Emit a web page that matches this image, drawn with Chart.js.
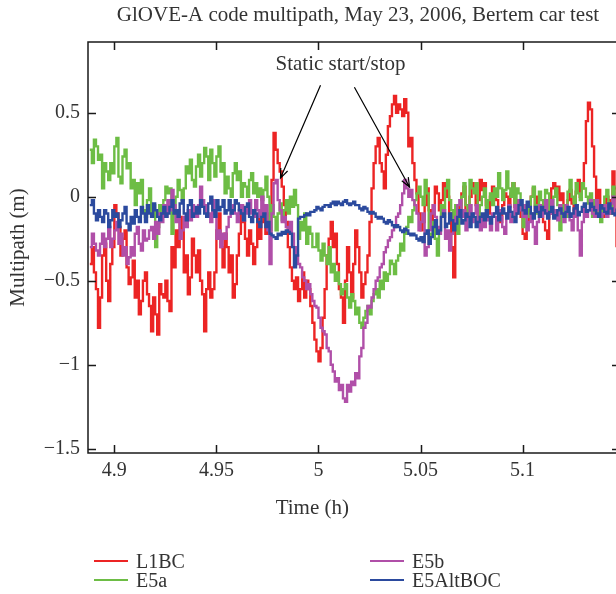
<!DOCTYPE html>
<html>
<head>
<meta charset="utf-8">
<script src="https://cdn.jsdelivr.net/npm/chart.js@4.4.1/dist/chart.umd.min.js"></script>
<style>
  html, body { margin: 0; padding: 0; background: #fff; overflow: hidden; }
  #wrap { position: relative; width: 626px; height: 594px; }
  #legend { position: absolute; left: 0; top: 0; width: 616px; height: 594px; pointer-events: none;
            font-family: "Liberation Serif", serif; font-size: 20px; color: #333; }
  .item { position: absolute; height: 22px; line-height: 22px; display: flex; align-items: center; white-space: nowrap; }
  .item .swatch { display: inline-block; width: 34px; height: 2px; margin-right: 8px; }
</style>
</head>
<body>
<div id="wrap">
  <canvas id="chart" width="626" height="594"></canvas>
  <div id="legend"></div>
</div>
<script>
const tStart = 4.888;
const tStep = 0.001;

const l1bc = [
  -0.4, -0.3, -0.45, -0.55, -0.78, -0.6, -0.35, -0.28, -0.5, -0.62, -0.4, -0.3, -0.05, -0.1, -0.18, -0.35, -0.25, -0.2, -0.42, -0.52,
  -0.48, -0.38, -0.6, -0.5, -0.7, -0.62, -0.5, -0.45, -0.58, -0.65, -0.8, -0.6, -0.7, -0.82, -0.52, -0.58, -0.6, -0.5, -0.62, -0.68,
  -0.3, -0.42, -0.2, -0.3, -0.12, -0.2, -0.45, -0.35, -0.58, -0.48, -0.25, -0.35, -0.45, -0.32, -0.5, -0.58, -0.8, -0.55, -0.45, -0.6,
  -0.55, -0.45, -0.2, -0.1, -0.3, -0.42, -0.22, -0.3, -0.45, -0.35, -0.6, -0.52, -0.35, -0.22, -0.05, -0.15, -0.25, -0.35, -0.2, -0.28,
  -0.4, -0.3, -0.12, -0.25, -0.15, -0.08, -0.22, -0.18, -0.1, 0.1, 0.38, 0.28, 0.2, 0.15, 0.06, -0.05, -0.15, -0.3, -0.42, -0.5,
  -0.55, -0.48, -0.62, -0.55, -0.45, -0.6, -0.5, -0.55, -0.65, -0.75, -0.85, -0.92, -0.98, -0.9, -0.72, -0.55, -0.35, -0.25, -0.15, -0.3,
  -0.22, -0.4, -0.55, -0.6, -0.75, -0.5, -0.3, -0.45, -0.6, -0.4, -0.2, -0.3, -0.45, -0.6, -0.52, -0.45, -0.35, -0.15, 0.05, 0.2,
  0.3, 0.35, 0.2, 0.15, 0.05, 0.25, 0.42, 0.48, 0.55, 0.6, 0.5, 0.55, 0.52, 0.48, 0.58, 0.5, 0.3, 0.35, 0.2, 0.1,
  0.02, -0.1, -0.2, -0.15, -0.05, 0.05, -0.08, -0.15, -0.05, 0.06, 0.02, -0.08, -0.02, 0.08, 0.04, 0.0, -0.1, -0.3, -0.48, -0.2,
  -0.05, -0.12, 0.02, 0.06, -0.08, -0.12, 0.0, 0.08, 0.05, -0.05, -0.02, 0.1, 0.04, 0.08, -0.05, -0.1, 0.0, 0.06, 0.02, -0.02,
  -0.08, -0.15, -0.05, 0.02, 0.0, -0.06, 0.02, 0.08, -0.06, -0.02, -0.08, -0.12, -0.22, -0.25, -0.15, -0.08, 0.0, 0.05, -0.08, 0.0,
  -0.1, -0.05, -0.15, -0.2, -0.25, -0.1, 0.05, 0.08, 0.02, 0.06, -0.02, 0.02, -0.05, -0.1, -0.02, 0.04, -0.04, -0.08, 0.03, 0.1,
  0.0, 0.05, 0.2, 0.45, 0.56, 0.52, 0.3, 0.12, -0.02, 0.04, -0.05, -0.12, -0.08, 0.0, -0.02, -0.1, 0.15, 0.05, -0.3
];

const e5a = [
  0.28, 0.2, 0.34, 0.3, 0.22, 0.25, 0.05, 0.2, 0.15, 0.1, 0.2, 0.14, 0.3, 0.35, 0.12, 0.08, 0.24, 0.28, 0.17, 0.2,
  0.05, 0.1, -0.05, 0.08, 0.02, 0.1, -0.08, -0.12, -0.02, 0.05, -0.1, -0.05, -0.3, -0.18, -0.05, -0.12, -0.02, 0.06, 0.02, 0.05,
  -0.22, -0.1, 0.0, 0.1, 0.04, -0.02, 0.05, 0.18, 0.14, 0.22, 0.1, 0.06, 0.18, 0.25, 0.12, 0.2, 0.29, 0.24, 0.1, 0.28,
  0.2, 0.12, 0.24, 0.3, 0.15, 0.2, 0.02, 0.12, 0.05, 0.0, 0.14, 0.2, 0.1, 0.15, 0.0, 0.08, 0.06, 0.0, 0.1, 0.14,
  0.02, 0.08, 0.0, 0.05, -0.02, 0.04, 0.12, 0.0, -0.2, -0.05, -0.12, -0.2, -0.1, -0.04, -0.14, -0.08, -0.02, -0.1, 0.0, -0.06,
  0.04, -0.05, -0.25, -0.15, -0.2, -0.1, -0.28, -0.18, -0.22, -0.3, -0.3, -0.22, -0.32, -0.38, -0.28, -0.35, -0.4, -0.3, -0.45, -0.4,
  -0.5, -0.45, -0.52, -0.58, -0.55, -0.52, -0.6, -0.66, -0.58, -0.62, -0.7, -0.66, -0.75, -0.78, -0.72, -0.68, -0.65, -0.7, -0.62, -0.58,
  -0.55, -0.6, -0.5, -0.55, -0.45, -0.5, -0.46, -0.38, -0.4, -0.46, -0.38, -0.35, -0.28, -0.32, -0.22, -0.18, -0.12, -0.15, -0.08, -0.02,
  0.02, 0.06, 0.0, -0.05, 0.1, 0.02, -0.28, -0.22, -0.15, -0.25, -0.35, -0.2, -0.05, -0.12, 0.05, 0.1, -0.02, -0.08, -0.15, -0.05,
  -0.22, -0.1, 0.0, 0.08, -0.05, -0.1, 0.1, 0.05, 0.02, 0.08, -0.12, -0.05, 0.0, 0.05, -0.08, -0.02, 0.02, -0.05, 0.05, 0.0,
  0.14, 0.05, -0.02, 0.04, 0.15, 0.05, 0.0, 0.08, -0.05, 0.05, 0.02, -0.05, -0.18, -0.08, -0.12, -0.05, 0.0, 0.06, -0.05, -0.1,
  0.03, -0.02, -0.08, 0.04, 0.02, -0.08, -0.05, 0.0, 0.05, -0.05, -0.2, -0.05, -0.1, -0.12, 0.03, 0.1, 0.0, -0.04, 0.08, 0.02,
  -0.02, 0.08, 0.05, 0.0, -0.04, 0.02, -0.12, -0.02, -0.08, -0.1, -0.15, -0.08, 0.0, 0.04, -0.06, -0.1, 0.06, 0.0, -0.02
];

const e5b = [
  -0.3, -0.22, -0.28, -0.32, -0.35, -0.28, -0.22, -0.3, -0.25, -0.18, -0.3, -0.25, -0.2, -0.15, -0.28, -0.22, -0.35, -0.3, -0.4, -0.36,
  -0.3, -0.35, -0.22, -0.18, -0.28, -0.32, -0.2, -0.26, -0.25, -0.2, -0.18, -0.25, -0.15, -0.22, -0.1, -0.15, -0.05, -0.12, -0.02, -0.08,
  0.04, -0.05, -0.15, -0.08, -0.25, -0.2, -0.12, -0.18, -0.08, -0.14, -0.05, -0.1, -0.12, -0.05, 0.06, -0.02, -0.05, -0.12, -0.1, -0.15,
  -0.02, -0.1, -0.25, -0.2, -0.3, -0.22, -0.25, -0.18, -0.12, -0.1, -0.05, -0.1, -0.15, -0.08, -0.05, -0.14, -0.1, -0.05, -0.02, -0.1,
  -0.12, -0.02, -0.08, -0.12, 0.0, -0.1, -0.05, -0.2, -0.4, -0.1, 0.08, 0.1, -0.02, -0.08, -0.15, -0.12, -0.18, -0.2, -0.15, -0.22,
  -0.3, -0.35, -0.4, -0.42, -0.48, -0.5, -0.55, -0.52, -0.58, -0.62, -0.65, -0.66, -0.72, -0.78, -0.8, -0.82, -0.9, -0.92, -1.0, -1.04,
  -1.1, -1.08, -1.15, -1.12, -1.2, -1.22, -1.12, -1.16, -1.1, -1.12, -1.05, -1.08, -0.95, -0.9, -0.78, -0.75, -0.65, -0.66, -0.6, -0.55,
  -0.5, -0.48, -0.42, -0.4, -0.33, -0.3, -0.26, -0.24, -0.2, -0.18, -0.12, -0.1, -0.05, 0.02, 0.1, 0.05, 0.0, 0.04, -0.02, -0.05,
  -0.1, -0.2, -0.15, -0.1, -0.35, -0.3, -0.2, -0.1, -0.05, -0.12, -0.18, -0.22, -0.12, -0.08, -0.25, -0.2, -0.32, -0.22, -0.15, -0.12,
  -0.05, -0.02, -0.12, -0.08, -0.2, -0.12, -0.05, -0.15, -0.1, -0.05, -0.15, -0.2, -0.12, -0.18, -0.1, -0.14, -0.2, -0.1, -0.12, -0.2,
  -0.08, -0.12, -0.18, -0.22, -0.1, -0.05, -0.15, -0.12, -0.05, -0.1, -0.02, -0.08, -0.12, -0.05, -0.2, -0.15, -0.1, -0.18, -0.28, -0.15,
  -0.05, -0.12, -0.08, -0.02, -0.12, -0.1, -0.02, -0.12, -0.08, -0.14, -0.05, -0.1, -0.15, -0.05, -0.1, -0.14, -0.2, -0.08, -0.12, -0.2,
  -0.35, -0.15, -0.05, -0.12, -0.08, -0.02, -0.1, -0.12, -0.02, -0.08, -0.12, -0.1, -0.05, -0.12, -0.1, -0.04, 0.0, -0.1, -0.08
];

const e5altboc = [
  -0.05, -0.02, -0.1, -0.14, -0.08, -0.12, -0.15, -0.08, -0.1, -0.18, -0.14, -0.08, -0.12, -0.1, -0.18, -0.14, -0.1, -0.06, -0.16, -0.2,
  -0.12, -0.16, -0.08, -0.12, -0.15, -0.06, -0.1, -0.15, -0.05, -0.1, -0.12, -0.04, -0.08, -0.12, -0.14, -0.1, -0.06, -0.12, -0.1, -0.06,
  -0.02, -0.1, -0.08, -0.12, -0.04, -0.02, -0.1, -0.14, -0.05, -0.02, -0.12, -0.1, -0.06, -0.1, -0.02, -0.06, -0.1, -0.12, -0.04, 0.0,
  -0.08, -0.12, -0.02, -0.08, -0.06, -0.02, -0.1, -0.08, -0.02, -0.1, -0.08, -0.02, -0.04, -0.08, -0.1, -0.14, -0.06, -0.04, -0.12, -0.15,
  -0.08, -0.1, -0.15, -0.18, -0.12, -0.1, -0.18, -0.15, -0.22, -0.23, -0.24, -0.25, -0.22, -0.23, -0.21, -0.22, -0.2, -0.21, -0.22, -0.3,
  -0.42, -0.35, -0.13, -0.12, -0.12, -0.11, -0.1, -0.11, -0.09, -0.09, -0.08, -0.06, -0.07, -0.08, -0.06, -0.05, -0.05, -0.06, -0.04, -0.03,
  -0.05, -0.03, -0.04, -0.05, -0.03, -0.02, -0.04, -0.05, -0.04, -0.03, -0.05, -0.05, -0.07, -0.08, -0.06, -0.07, -0.09, -0.1, -0.09, -0.1,
  -0.12, -0.13, -0.12, -0.13, -0.15, -0.16, -0.14, -0.15, -0.17, -0.18, -0.17, -0.18, -0.2, -0.21, -0.19, -0.2, -0.22, -0.23, -0.22, -0.23,
  -0.25, -0.26, -0.24, -0.27, -0.22, -0.2, -0.28, -0.24, -0.18, -0.14, -0.22, -0.2, -0.12, -0.1, -0.18, -0.16, -0.1, -0.14, -0.2, -0.16,
  -0.12, -0.08, -0.16, -0.14, -0.1, -0.12, -0.18, -0.1, -0.12, -0.18, -0.15, -0.12, -0.1, -0.14, -0.08, -0.12, -0.16, -0.12, -0.1, -0.06,
  -0.14, -0.1, -0.07, -0.1, -0.13, -0.06, -0.09, -0.12, -0.15, -0.1, -0.05, -0.02, -0.08, -0.1, -0.03, -0.06, -0.1, -0.13, -0.06, -0.09,
  -0.12, -0.06, -0.08, -0.1, -0.13, -0.09, -0.06, -0.13, -0.11, -0.08, -0.07, -0.1, -0.12, -0.09, -0.06, -0.12, -0.1, -0.07, -0.05, -0.11,
  -0.09, -0.06, -0.04, -0.09, -0.08, -0.04, -0.06, -0.08, -0.1, -0.12, -0.05, -0.07, -0.09, -0.1, -0.04, -0.07, -0.1, -0.11, -0.07
];

const seriesNames = ['L1BC', 'E5a', 'E5b', 'E5AltBOC'];
const seriesColors = ['#ec2424', '#6dbd45', '#b04fa8', '#2b4a9e'];
const xTicks = [4.9, 4.95, 5, 5.05, 5.1];
const yTicks = [-1.5, -1, -0.5, 0, 0.5];

const times = Array.from({ length: l1bc.length }, (_, i) => +(tStart + i * tStep).toFixed(3));

const titleText = 'GlOVE-A code multipath, May 23, 2006, Bertem car test';
const noteText = 'Static start/stop';
// Beschriftung und Pfeile in Datenkoordinaten
const note = { x: 5.0108, y: 0.79 };
const arrows = [
  { from: [5.0010, 0.664], to: [4.9814, 0.111] },
  { from: [5.0176, 0.652], to: [5.0446, 0.058] }
];

const fontFamily = '"Liberation Serif", "Times New Roman", serif';
const textColor = '#333';

function drawArrow(ctx, x1, y1, x2, y2) {
  const ang = Math.atan2(y2 - y1, x2 - x1);
  const h = 10, w = 0.38;
  ctx.beginPath();
  ctx.moveTo(x1, y1);
  ctx.lineTo(x2, y2);
  ctx.moveTo(x2 - h * Math.cos(ang - w), y2 - h * Math.sin(ang - w));
  ctx.lineTo(x2, y2);
  ctx.lineTo(x2 - h * Math.cos(ang + w), y2 - h * Math.sin(ang + w));
  ctx.stroke();
}

// Rahmen mit Innen-Ticks, Titel, x-Beschriftung und Anmerkung
const framePlugin = {
  id: 'frame',
  afterDatasetsDraw(chart) {
    const { ctx, chartArea: a, scales: { x, y } } = chart;
    const tl = 8;
    ctx.save();
    ctx.strokeStyle = '#1a1a1a';
    ctx.lineWidth = 1.5;
    ctx.strokeRect(a.left, a.top, a.right - a.left, a.bottom - a.top);
    ctx.beginPath();
    xTicks.forEach(v => {
      const px = Math.round(x.getPixelForValue(v)) + 0.5;
      ctx.moveTo(px, a.bottom); ctx.lineTo(px, a.bottom - tl);
      ctx.moveTo(px, a.top); ctx.lineTo(px, a.top + tl);
    });
    yTicks.forEach(v => {
      const py = Math.round(y.getPixelForValue(v)) + 0.5;
      ctx.moveTo(a.left, py); ctx.lineTo(a.left + tl, py);
      ctx.moveTo(a.right, py); ctx.lineTo(a.right - tl, py);
    });
    ctx.stroke();

    ctx.fillStyle = textColor;
    ctx.font = '21px ' + fontFamily;
    ctx.textAlign = 'center';
    ctx.textBaseline = 'middle';
    ctx.fillText(titleText, (a.left + a.right) / 2 + 4, 15);
    ctx.fillText('Time (h)', x.getPixelForValue(4.997), 508);
    ctx.fillText(noteText, x.getPixelForValue(note.x), y.getPixelForValue(note.y));

    ctx.strokeStyle = '#000';
    ctx.lineWidth = 1.2;
    arrows.forEach(ar => {
      drawArrow(ctx,
        x.getPixelForValue(ar.from[0]), y.getPixelForValue(ar.from[1]),
        x.getPixelForValue(ar.to[0]), y.getPixelForValue(ar.to[1]));
    });
    ctx.restore();
  }
};

document.addEventListener("DOMContentLoaded", function () {
  const ctx = document.getElementById('chart').getContext('2d');
  const allSeries = [l1bc, e5a, e5b, e5altboc];
  // MATLAB-Reihenfolge: letzte Reihe liegt oben
  const datasets = allSeries.map((vals, k) => ({
    label: seriesNames[k],
    data: vals.map((v, i) => ({ x: times[i], y: v })),
    borderColor: seriesColors[k],
    borderWidth: 2.4,
    pointRadius: 0,
    stepped: true,
    fill: false,
    order: 3 - k
  }));

  new Chart(ctx, {
    type: 'line',
    data: { datasets: datasets },
    options: {
      responsive: false,
      animation: false,
      devicePixelRatio: 1,
      layout: { padding: { top: 42, right: 6, bottom: 0, left: 0 } },
      elements: { line: { tension: 0 } },
      plugins: { legend: { display: false }, tooltip: { enabled: false } },
      scales: {
        x: {
          type: 'linear',
          min: 4.8871,
          max: 5.1477,
          afterFit: s => { s.height = 141; },
          afterBuildTicks: s => { s.ticks = xTicks.map(v => ({ value: v })); },
          grid: { display: false, drawTicks: false },
          border: { display: false },
          ticks: {
            padding: 6, color: textColor, maxRotation: 0,
            font: { family: fontFamily, size: 20 },
            callback: v => String(v)
          }
        },
        y: {
          min: -1.525,
          max: 0.921,
          afterFit: s => { s.width = 88; },
          afterBuildTicks: s => { s.ticks = yTicks.map(v => ({ value: v })); },
          grid: { display: false, drawTicks: false },
          border: { display: false },
          ticks: {
            padding: 8, color: textColor,
            font: { family: fontFamily, size: 20 },
            callback: v => (v < 0 ? '\u2212' + String(-v) : String(v))
          },
          title: {
            display: true, text: 'Multipath (m)', color: textColor,
            font: { family: fontFamily, size: 21 },
            padding: { top: 6, bottom: 0 }
          }
        }
      }
    },
    plugins: [framePlugin]
  });

  // Legende in zwei Spalten
  const legend = document.getElementById('legend');
  const slots = [[94, 561], [94, 580], [370, 561], [370, 580]];
  seriesNames.forEach((name, k) => {
    const item = document.createElement('div');
    item.className = 'item';
    item.style.left = slots[k][0] + 'px';
    item.style.top = (slots[k][1] - 11) + 'px';
    item.innerHTML = '<span class="swatch" style="background:' + seriesColors[k] + '"></span>' + name;
    legend.appendChild(item);
  });
});
</script>
</body>
</html>
